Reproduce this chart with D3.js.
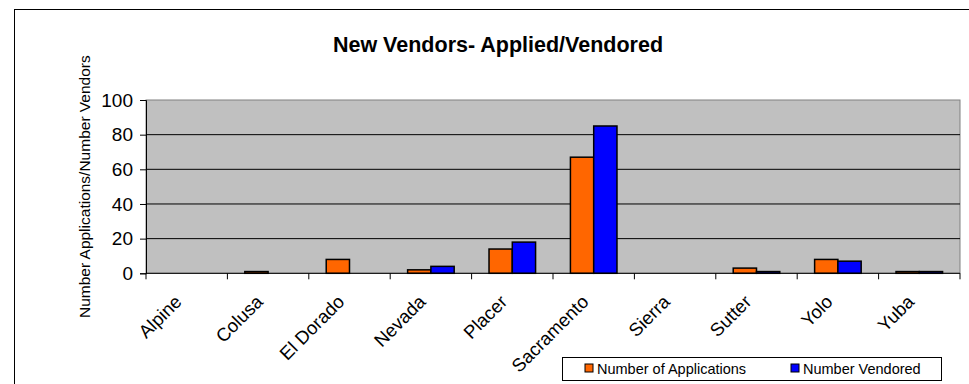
<!DOCTYPE html>
<html>
<head>
<meta charset="utf-8">
<script src="https://d3js.org/d3.v7.min.js"></script>
<style>
  body { margin: 0; background: #fff; }
  text { font-family: "Liberation Sans", Arial, sans-serif; fill: #000; }
</style>
</head>
<body>
<div id="chart"></div>
<script>
var counties = ["Alpine", "Colusa", "El Dorado", "Nevada", "Placer", "Sacramento", "Sierra", "Sutter", "Yolo", "Yuba"]
var applications = [0, 1, 8, 2, 14, 67, 0, 3, 8, 1]
var vendored = [0, 0, 0, 4, 18, 85, 0, 1, 7, 1]
var seriesNames = ["Number of Applications", "Number Vendored"]
var seriesColors = ["#ff6600", "#0000ff"]
var yTicks = [0, 20, 40, 60, 80, 100]

var width = 969, height = 384
var plot = {left: 146, right: 960, top: 100, bottom: 273.3}

var svg = d3.select("#chart").append("svg")
  .attr("width", width)
  .attr("height", height)

// outer chart border (runs off the picture on the right / bottom)
svg.append("rect")
  .attr("x", 14.5).attr("y", 9.5)
  .attr("width", 1000).attr("height", 500)
  .attr("fill", "#fff").attr("stroke", "#000")

var x0 = d3.scaleBand()
  .domain(counties)
  .range([plot.left, plot.right])

var x1 = d3.scaleBand()
  .domain(seriesNames)
  .range([x0.bandwidth() * 0.214, x0.bandwidth() * 0.786])

var y = d3.scaleLinear()
  .domain([0, 100])
  .range([plot.bottom, plot.top])

// plot area
svg.append("rect")
  .attr("x", plot.left).attr("y", plot.top)
  .attr("width", plot.right - plot.left)
  .attr("height", plot.bottom - plot.top)
  .attr("fill", "#c0c0c0")
  .attr("stroke", "#808080")

// gridlines
svg.append("g").selectAll("line")
  .data(yTicks.slice(1, -1))
  .enter().append("line")
  .attr("x1", plot.left).attr("x2", plot.right)
  .attr("y1", d => y(d)).attr("y2", d => y(d))
  .attr("stroke", "#000")

// bars
var rows = counties.map((c, i) => ({county: c, values: [applications[i], vendored[i]]}))

svg.append("g").selectAll("g")
  .data(rows)
  .enter().append("g")
  .attr("transform", d => "translate(" + x0(d.county) + ",0)")
  .selectAll("rect")
  .data(d => d.values.map((v, j) => ({name: seriesNames[j], value: v, color: seriesColors[j]})))
  .enter().append("rect")
  .filter(d => d.value > 0)
  .attr("x", d => x1(d.name))
  .attr("y", d => y(d.value))
  .attr("width", x1.bandwidth())
  .attr("height", d => y(0) - y(d.value))
  .attr("fill", d => d.color)
  .attr("stroke", "#000")
  .attr("stroke-width", 1.5)

// y axis
var yAxis = svg.append("g")
  .attr("transform", "translate(" + plot.left + ",0)")
  .call(d3.axisLeft(y).tickValues(yTicks).tickSize(6).tickPadding(7))
yAxis.select(".domain").attr("stroke", "#000")
yAxis.selectAll("text").attr("font-size", 19).attr("fill", "#000")
  .attr("font-family", "Liberation Sans, Arial, sans-serif")

// x axis: ticks on category boundaries
var xAxis = svg.append("g")
xAxis.append("line")
  .attr("x1", plot.left).attr("x2", plot.right)
  .attr("y1", y(0)).attr("y2", y(0))
  .attr("stroke", "#000")
xAxis.selectAll(".tick")
  .data(counties.map(c => x0(c)).concat([plot.right]))
  .enter().append("line")
  .attr("x1", d => d).attr("x2", d => d)
  .attr("y1", y(0)).attr("y2", y(0) + 6)
  .attr("stroke", "#000")

xAxis.selectAll(".lbl")
  .data(counties)
  .enter().append("text")
  .attr("text-anchor", "end")
  .attr("font-size", 18.5)
  .attr("transform", d => "translate(" + (x0(d) + x0.bandwidth() / 2 - 4) + ",303) rotate(-45)")
  .text(d => d)

// title
svg.append("text")
  .attr("x", 498).attr("y", 52)
  .attr("text-anchor", "middle")
  .attr("font-size", 21.5)
  .attr("font-weight", "bold")
  .text("New Vendors- Applied/Vendored")

// y axis title
svg.append("text")
  .attr("transform", "translate(90," + ((plot.top + plot.bottom) / 2) + ") rotate(-90)")
  .attr("text-anchor", "middle")
  .attr("font-size", 15.5)
  .text("Number Applications/Number Vendors")

// legend
var legend = svg.append("g")
legend.append("rect")
  .attr("x", 562.5).attr("y", 357.5)
  .attr("width", 379).attr("height", 23)
  .attr("fill", "#fff").attr("stroke", "#000")

var legendX = [585, 791]
var items = legend.selectAll(".item")
  .data(seriesNames)
  .enter().append("g")
  .attr("transform", (d, i) => "translate(" + legendX[i] + ",364)")
items.append("rect")
  .attr("width", 8).attr("height", 8)
  .attr("fill", (d, i) => seriesColors[i])
  .attr("stroke", "#000")
items.append("text")
  .attr("x", 12).attr("y", 9.5)
  .attr("font-size", 14.5)
  .text(d => d)
</script>
</body>
</html>
